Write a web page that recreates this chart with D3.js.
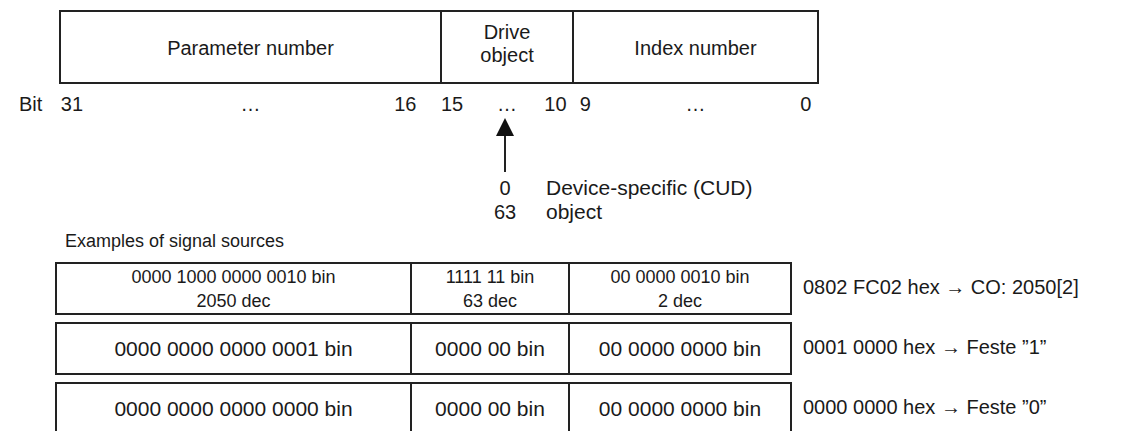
<!DOCTYPE html>
<html>
<head>
<meta charset="utf-8">
<script src="https://cdn.jsdelivr.net/npm/d3@7"></script>
<style>
  body { margin: 0; background: #fff; }
  text { font-family: "Liberation Sans", Arial, sans-serif; fill: #1a1a1a; }
</style>
</head>
<body>
<script>
var width = 1125;
var height = 431;

// parameter word layout (bit boundaries)
var fieldNames = [["Parameter number"], ["Drive", "object"], ["Index number"]];
var fieldBits = [[31, 16], [15, 10], [9, 0]];
var bitLabels = [31, 16, 15, 10, 9, 0];

var objectRange = ["0", "63"];
var objectText = ["Device-specific (CUD)", "object"];

// examples
var exParam = [["0000 1000 0000 0010 bin", "2050 dec"], ["0000 0000 0000 0001 bin"], ["0000 0000 0000 0000 bin"]];
var exDrive = [["1111 11 bin", "63 dec"], ["0000 00 bin"], ["0000 00 bin"]];
var exIndex = [["00 0000 0010 bin", "2 dec"], ["00 0000 0000 bin"], ["00 0000 0000 bin"]];
var exResult = ["0802 FC02 hex \u2192 CO: 2050[2]", "0001 0000 hex \u2192 Feste \u201d1\u201d", "0000 0000 hex \u2192 Feste \u201d0\u201d"];

var fs = 20;
var stroke = "#222";

var svg = d3.select("body").append("svg")
    .attr("width", width)
    .attr("height", height);

// bit scale for the top word (bit edges, 32 = left edge of bit 31)
var xTop = d3.scaleLinear()
    .domain([32, 16, 10, 0])
    .range([60, 441, 573, 818]);

var word = svg.append("g");
word.append("rect")
    .attr("x", xTop(32)).attr("y", 11)
    .attr("width", xTop(0) - xTop(32)).attr("height", 72)
    .attr("fill", "none").attr("stroke", stroke).attr("stroke-width", 2);

word.selectAll(".div")
    .data([16, 10])
    .enter().append("line")
    .attr("x1", d => xTop(d)).attr("x2", d => xTop(d))
    .attr("y1", 11).attr("y2", 83)
    .attr("stroke", stroke).attr("stroke-width", 2);

fieldNames.forEach(function(lines, i) {
  var cx = (xTop(fieldBits[i][0] + 1) + xTop(fieldBits[i][1])) / 2;
  var y0 = lines.length > 1 ? 32 : 48;
  word.selectAll(null)
    .data(lines)
    .enter().append("text")
    .attr("x", cx)
    .attr("y", (d, j) => y0 + j * 23)
    .attr("dy", "0.35em")
    .attr("text-anchor", "middle")
    .attr("font-size", fs)
    .text(d => d);
  // ellipsis in bit row
  word.append("text")
    .attr("x", cx).attr("y", 104).attr("dy", "0.35em")
    .attr("text-anchor", "middle").attr("font-size", fs)
    .text("\u2026");
});

word.append("text")
    .attr("x", 19).attr("y", 104).attr("dy", "0.35em")
    .attr("font-size", fs).text("Bit");

// bit numbers sit under their bit, nudged inward at the field ends
word.selectAll(".bit")
    .data(bitLabels)
    .enter().append("text")
    .attr("x", d => d === 16 ? xTop(d + 1.5) : d === 10 ? xTop(d + 0.8) : xTop(d + 0.5))
    .attr("y", 104).attr("dy", "0.35em")
    .attr("text-anchor", "middle")
    .attr("font-size", fs)
    .text(d => d);

// arrow to drive object
var ax = (xTop(16) + xTop(10)) / 2 - 2;
svg.append("line")
    .attr("x1", ax).attr("x2", ax)
    .attr("y1", 130).attr("y2", 172)
    .attr("stroke", stroke).attr("stroke-width", 2);
svg.append("path")
    .attr("d", "M" + ax + ",118 L" + (ax - 9) + ",136 L" + (ax + 9) + ",136 Z")
    .attr("fill", "#111");

svg.selectAll(".rng")
    .data(objectRange)
    .enter().append("text")
    .attr("x", ax).attr("y", (d, i) => 188 + i * 24).attr("dy", "0.35em")
    .attr("text-anchor", "middle").attr("font-size", fs)
    .text(d => d);
svg.selectAll(".obj")
    .data(objectText)
    .enter().append("text")
    .attr("x", 546).attr("y", (d, i) => 188 + i * 24).attr("dy", "0.35em")
    .attr("font-size", 21)
    .text(d => d);

svg.append("text")
    .attr("x", 65).attr("y", 241).attr("dy", "0.35em")
    .attr("font-size", 18)
    .text("Examples of signal sources");

// example rows
var xEx = d3.scaleLinear()
    .domain([32, 16, 10, 0])
    .range([56, 411, 569, 791]);

var yRow = d3.scaleBand()
    .domain(d3.range(exResult.length))
    .range([263, 434])
    .paddingInner(0.15);

var cols = [exParam, exDrive, exIndex];

var rows = svg.selectAll(".row")
    .data(d3.range(exResult.length))
    .enter().append("g")
    .attr("class", "row")
    .attr("transform", d => "translate(0," + yRow(d) + ")");

rows.append("rect")
    .attr("x", xEx(32)).attr("y", 0)
    .attr("width", xEx(0) - xEx(32)).attr("height", yRow.bandwidth())
    .attr("fill", "none").attr("stroke", stroke).attr("stroke-width", 2);

rows.selectAll(".div")
    .data([16, 10])
    .enter().append("line")
    .attr("x1", d => xEx(d)).attr("x2", d => xEx(d))
    .attr("y1", 0).attr("y2", yRow.bandwidth())
    .attr("stroke", stroke).attr("stroke-width", 2);

rows.each(function(r) {
  var g = d3.select(this);
  var mid = yRow.bandwidth() / 2;
  cols.forEach(function(col, c) {
    var lines = col[r];
    var cx = (xEx(fieldBits[c][0] + 1) + xEx(fieldBits[c][1])) / 2;
    var y0 = mid - (lines.length - 1) * 12;
    g.selectAll(null)
      .data(lines)
      .enter().append("text")
      .attr("x", cx)
      .attr("y", (d, j) => y0 + j * 24)
      .attr("dy", "0.35em")
      .attr("text-anchor", "middle")
      .attr("font-size", lines.length > 1 ? 18 : 21)
      .text(d => d);
  });
  g.append("text")
    .attr("x", 803).attr("y", mid - 2).attr("dy", "0.35em")
    .attr("font-size", fs)
    .text(exResult[r]);
});
</script>
</body>
</html>
